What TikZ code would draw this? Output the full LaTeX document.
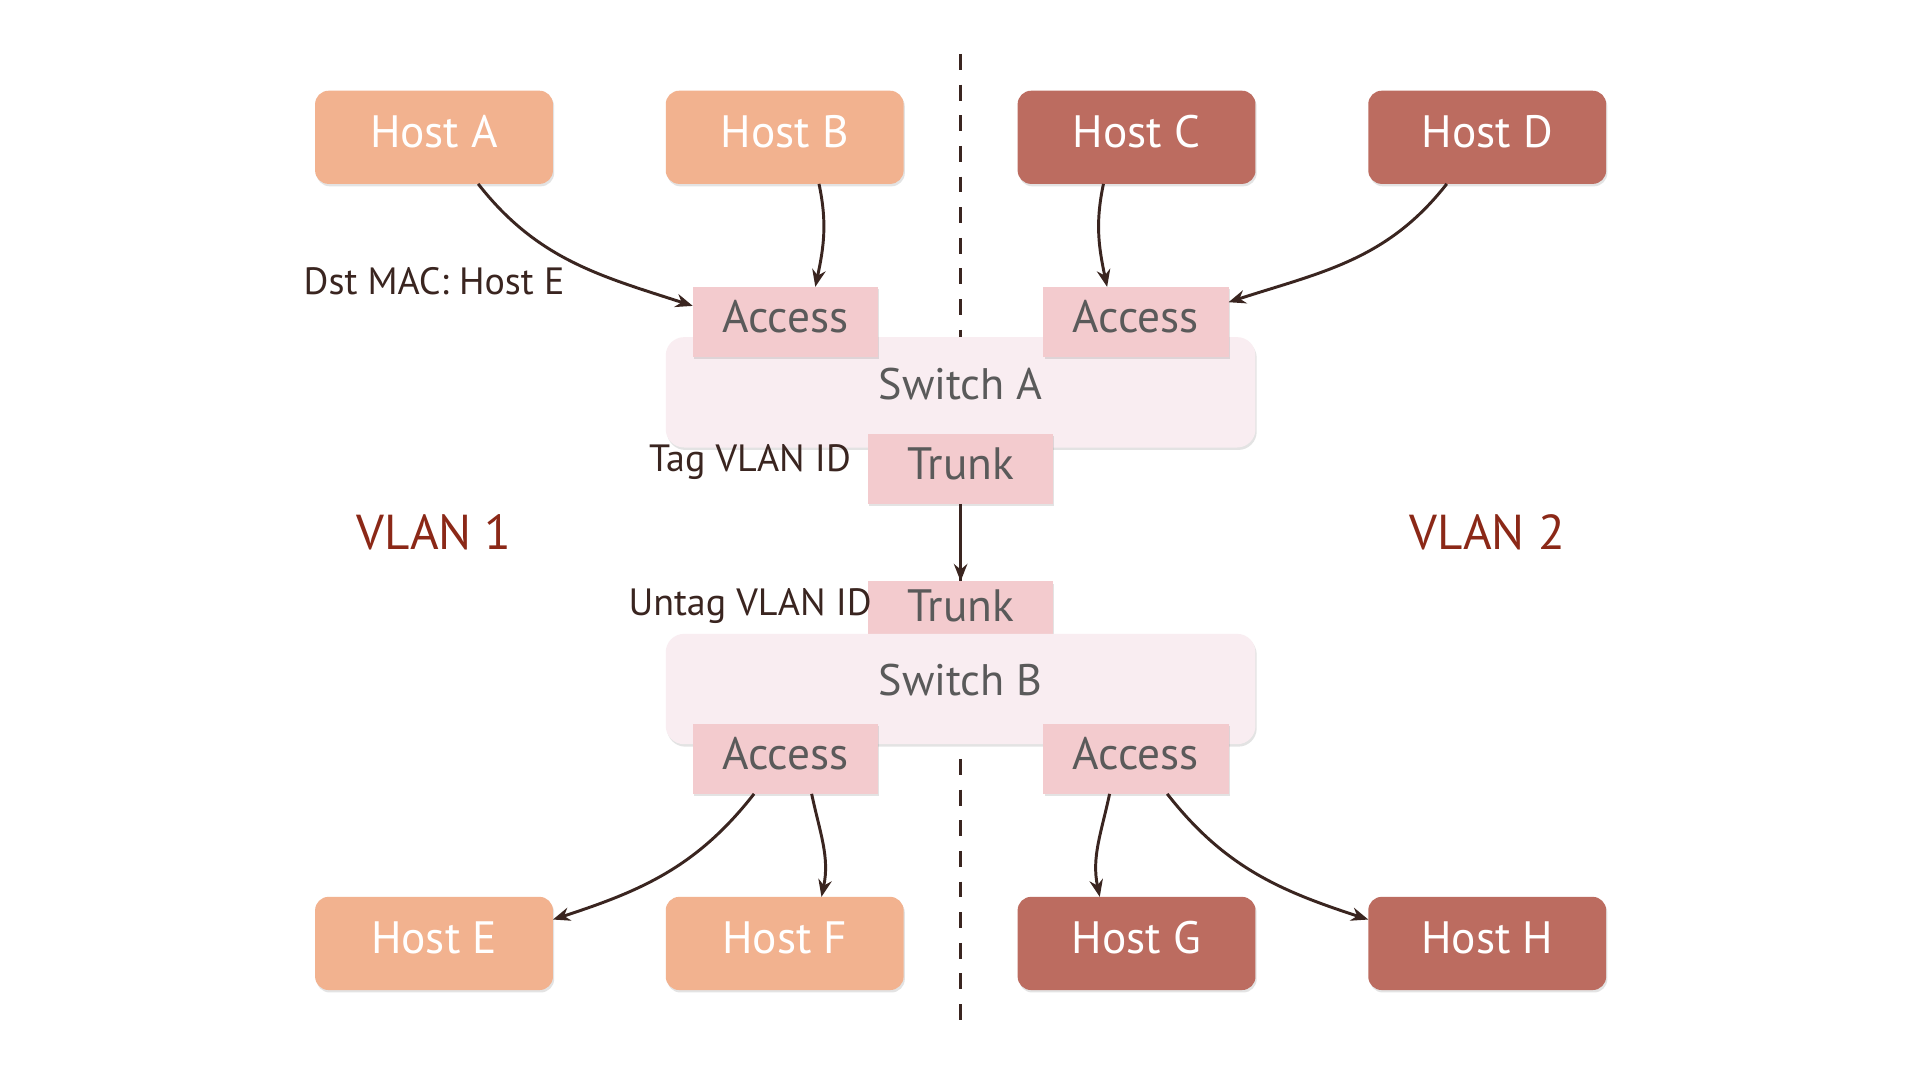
\documentclass[tikz,border=0pt]{standalone}
\usepackage{fontspec}
\setmainfont{PT Sans}
\usetikzlibrary{arrows.meta,shadows,calc}
\definecolor{hostlight}{HTML}{F2B28F}
\definecolor{hostdark}{HTML}{BC6C60}
\definecolor{portfill}{HTML}{F3CBCE}
\definecolor{switchfill}{HTML}{F9EDF1}
\definecolor{boxtext}{HTML}{5A5A5A}
\definecolor{inkdark}{HTML}{3A2520}
\definecolor{vlanred}{HTML}{8B2817}
\tikzset{
  every node/.style={inner sep=0pt, outer sep=0pt},
  softshadow/.style={drop shadow={shadow xshift=1pt, shadow yshift=-2pt, opacity=0.18, fill=black!60}},
  host/.style={rounded corners=11pt, minimum width=194pt, minimum height=76pt, text=white, font=\fontsize{37}{40}\selectfont, text height=26pt, text depth=10pt, softshadow},
  hostL/.style={host, fill=hostlight},
  hostR/.style={host, fill=hostdark},
  port/.style={fill=portfill, minimum width=151pt, minimum height=57pt, text=boxtext, font=\fontsize{37}{40}\selectfont, text height=26pt, text depth=8pt, softshadow},
  switchbox/.style={fill=switchfill, rounded corners=15pt, minimum width=481pt, minimum height=90pt, softshadow},
  swtext/.style={text=boxtext, font=\fontsize{36}{40}\selectfont},
  lbl/.style={text=inkdark, font=\fontsize{31}{34}\selectfont},
  vlan/.style={text=vlanred, font=\fontsize{40}{44}\selectfont},
  conn/.style={draw=inkdark, line width=2.4pt, -{Stealth[length=14pt,width=11pt]}},
  divider/.style={draw=inkdark, line width=2.4pt, dash pattern=on 13pt off 12pt}
}
\begin{document}
\begin{tikzpicture}[x=1pt,y=1pt]
\useasboundingbox (0,0) rectangle (1566,881);
\fill[white] (0,0) rectangle (1566,881);
% divider
\coordinate (dtop) at (783.5,837);
\coordinate (dbot) at (783.5,43);
\draw[divider] (dtop) -- (dbot);
% switch A
\node[switchbox] (swA) at (783.5,561) {};
\node[swtext] (swAt) at (783.5,568) {Switch A};
\node[port] (accA1) at (640.5,618.5) {Access};
\node[port] (accA2) at (926.5,618.5) {Access};
\node[port] (trA) at (783.5,498.5) {Trunk};
% switch B
\node[port] (trB) at (783.5,378.5) {};
\node[swtext, font=\fontsize{37}{40}\selectfont] (trBt) at (783.5,387) {Trunk};
\node[switchbox] (swB) at (783.5,319) {};
\node[swtext] (swBt) at (783.5,326) {Switch B};
\node[port] (accB1) at (640.5,262) {Access};
\node[port] (accB2) at (926.5,262) {Access};
% hosts
\node[hostL] (hA) at (354,769) {Host A};
\node[hostL] (hB) at (640,769) {Host B};
\node[hostR] (hC) at (927,769) {Host C};
\node[hostR] (hD) at (1213,769) {Host D};
\node[hostL] (hE) at (354,111.5) {Host E};
\node[hostL] (hF) at (640,111.5) {Host F};
\node[hostR] (hG) at (927,111.5) {Host G};
\node[hostR] (hH) at (1213,111.5) {Host H};
% connectors
\draw[conn] ([xshift=36pt]hA.south) to[out=-52,in=162] ([yshift=13pt]accA1.west);
\draw[conn] ([xshift=28pt]hB.south) to[out=-78,in=78] ([xshift=24.5pt]accA1.north);
\draw[conn] ([xshift=-27pt]hC.south) to[out=-102,in=102] ([xshift=-23.5pt]accA2.north);
\draw[conn] ([xshift=-33pt]hD.south) to[out=-128,in=18] ([yshift=16pt]accA2.east);
\draw[conn] (trA.south) -- (trB.north);
\draw[conn] ([xshift=-25.5pt]accB1.south) to[out=-128,in=18] ([yshift=19.5pt]hE.east);
\draw[conn] ([xshift=21.5pt]accB1.south) to[out=-78,in=78] ([xshift=30pt]hF.north);
\draw[conn] ([xshift=-21.5pt]accB2.south) to[out=-102,in=102] ([xshift=-30pt]hG.north);
\draw[conn] ([xshift=25.5pt]accB2.south) to[out=-52,in=162] ([yshift=19.5pt]hH.west);
% labels
\node[lbl] (dst) at (354,652) {Dst MAC: Host E};
\node[lbl, anchor=east] (tag) at (694,504) {Tag VLAN ID};
\node[lbl, anchor=east] (untag) at (711,387) {Untag VLAN ID};
\node[vlan] (v1) at (354,447) {VLAN 1};
\node[vlan] (v2) at (1213,447) {VLAN 2};
\end{tikzpicture}
\end{document}
